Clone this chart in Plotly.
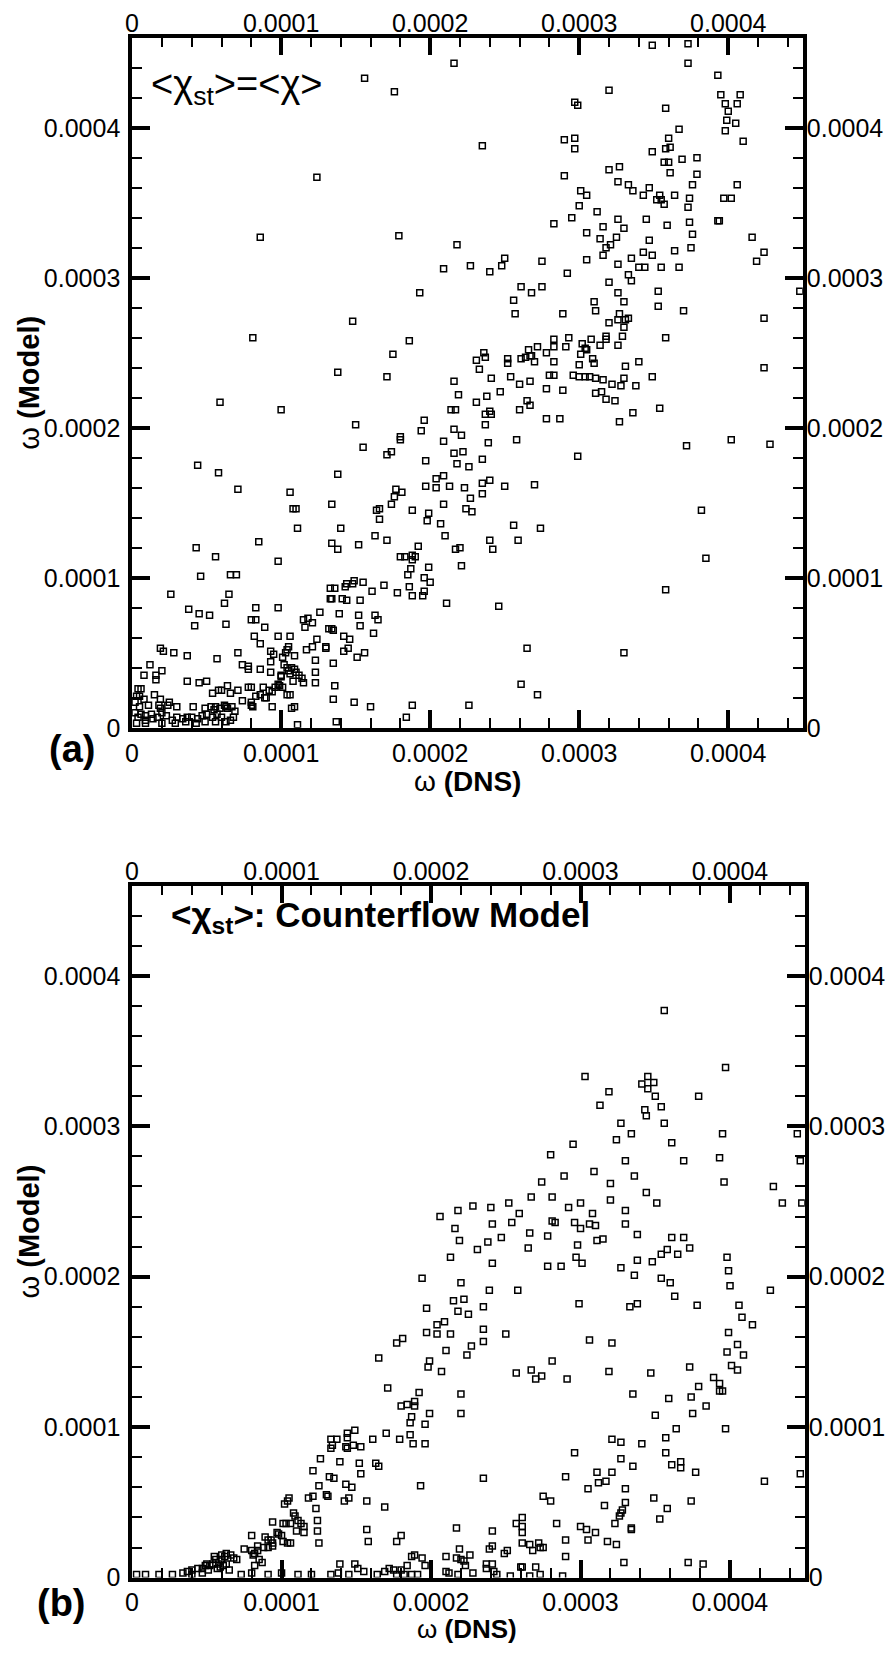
import plotly.graph_objects as go

# values in units of 1e-6 (axis ticks are labelled in real units)
TICK_VALS = [0, 100, 200, 300, 400]
TICK_TEXT = ["0", "0.0001", "0.0002", "0.0003", "0.0004"]

# (a) <chi_st> = <chi>
a_pts = [
    (216, 443), (156, 433), (176, 424), (124, 367), (86, 327), (179, 328), (218, 322), (209, 306), (227, 308),
    (193, 290), (148, 271), (81, 260), (186, 258), (175, 249), (138, 237), (171, 234), (216, 231),
    (219, 222), (59, 217), (100, 212), (214, 212), (217, 212), (196, 205), (150, 202), (180, 194), (180, 192),
    (194, 198), (216, 199), (221, 195), (209, 191), (155, 187), (171, 182), (174, 184), (216, 183), (222, 184),
    (44, 175), (197, 178), (218, 176), (226, 174), (58, 170), (138, 169), (209, 168), (204, 166), (71, 159),
    (177, 159), (181, 157), (197, 161), (204, 160), (213, 161), (223, 160), (106, 157), (176, 154), (174, 149),
    (134, 149), (209, 149), (227, 153), (224, 146), (228, 144), (108, 146), (110, 146), (164, 145), (166, 146),
    (188, 145), (199, 143), (198, 138), (166, 139), (207, 136), (140, 133), (111, 133), (163, 128), (210, 128),
    (85, 124), (134, 123), (138, 119), (152, 122), (171, 125), (192, 121), (43, 120), (217, 119), (220, 120),
    (56, 114), (180, 114), (183, 114), (190, 114), (188, 115), (188, 112), (187, 106), (98, 111), (199, 107),
    (221, 108), (46, 101), (66, 102), (70, 102), (185, 102), (196, 100), (200, 97), (186, 94), (144, 96),
    (143, 94), (149, 98), (148, 96), (155, 97), (169, 95), (133, 93), (136, 93), (161, 91), (178, 90), (196, 91),
    (195, 88), (188, 88), (26, 89), (133, 86), (134, 86), (141, 86), (144, 85), (153, 85), (211, 83), (62, 83),
    (65, 89), (38, 79), (45, 76), (52, 75), (83, 80), (98, 80), (126, 77), (139, 76), (152, 75), (163, 75),
    (165, 72), (42, 68), (63, 69), (80, 72), (83, 72), (115, 72), (118, 73), (116, 67), (121, 70), (89, 67),
    (132, 66), (134, 66), (135, 65), (153, 68), (162, 63), (82, 61), (86, 56), (98, 61), (106, 61), (124, 59),
    (142, 61), (146, 59), (130, 54), (130, 53), (117, 52), (121, 54), (142, 51), (145, 53), (151, 47), (156, 50),
    (19, 53), (21, 51), (28, 50), (37, 48), (57, 46), (71, 50), (93, 51), (95, 49), (101, 47), (103, 50),
    (104, 52), (105, 54), (109, 48), (123, 45), (135, 43), (12, 42), (93, 44), (74, 42), (78, 39), (78, 41),
    (86, 39), (93, 37), (102, 42), (104, 40), (105, 38), (107, 40), (109, 39), (106, 36), (110, 37), (112, 35),
    (114, 33), (115, 30), (108, 31), (100, 35), (100, 34), (123, 37), (8, 35), (16, 35), (16, 32), (20, 38),
    (37, 31), (45, 30), (50, 31), (123, 30), (136, 28), (98, 29), (96, 27), (99, 28), (101, 27), (78, 27),
    (80, 27), (71, 25), (64, 28), (54, 23), (58, 25), (60, 25), (66, 23), (88, 27), (92, 25), (94, 24), (4, 26),
    (6, 26), (15, 22), (104, 22), (106, 22), (83, 21), (86, 22), (89, 20), (90, 20), (74, 18), (80, 17),
    (80, 15), (81, 14), (135, 19), (149, 17), (3, 21), (5, 21), (8, 19), (19, 19), (25, 17), (24, 15), (11, 15),
    (18, 15), (19, 13), (30, 14), (41, 14), (49, 13), (53, 14), (55, 12), (56, 14), (59, 13), (62, 15), (63, 14),
    (64, 13), (67, 14), (69, 11), (94, 14), (107, 13), (109, 14), (160, 14), (188, 15), (226, 15), (184, 7),
    (137, 4), (111, 2),
    (2, 10), (4, 7), (6, 9), (9, 8), (13, 9), (9, 5), (14, 6), (17, 7), (20, 10), (23, 8), (27, 5), (30, 7),
    (34, 6), (37, 7), (40, 7), (44, 6), (47, 8), (50, 9), (54, 7), (57, 9), (60, 7), (63, 4), (66, 5), (68, 7),
    (29, 3), (43, 3), (49, 4), (56, 4), (20, 3), (9, 3), (3, 3), (36, 4), (2, 17), (5, 14),
    (349, 455), (373, 456), (373, 443), (393, 435), (320, 425), (395, 422), (408, 422), (406, 416), (398, 416),
    (400, 411), (297, 417), (299, 415), (358, 413), (399, 405), (405, 403), (398, 398), (367, 399), (410, 391),
    (235, 388), (290, 392), (297, 393), (297, 386), (360, 393), (358, 386), (361, 387), (349, 384), (357, 377),
    (360, 377), (369, 379), (379, 380), (320, 372), (327, 374), (361, 370), (379, 369), (376, 362), (290, 368),
    (326, 364), (333, 362), (406, 362), (336, 358), (347, 360), (301, 358), (305, 355), (343, 355), (364, 355),
    (374, 353), (373, 347), (397, 353), (402, 353), (354, 355), (352, 352), (355, 352), (357, 349), (300, 348),
    (312, 344), (295, 340), (326, 339), (345, 339), (393, 338), (394, 338), (283, 336), (359, 335), (374, 337),
    (316, 334), (330, 333), (305, 330), (314, 326), (325, 327), (318, 320), (321, 322), (347, 325), (376, 329),
    (416, 327), (375, 320), (364, 318), (343, 317), (349, 315), (424, 317), (419, 311), (316, 315), (250, 313),
    (248, 308), (240, 304), (275, 311), (305, 312), (335, 313), (326, 309), (340, 307), (344, 307), (355, 307),
    (367, 307), (292, 303), (333, 302), (335, 298), (320, 297), (261, 294), (275, 294), (268, 290), (448, 291),
    (353, 291), (326, 290), (256, 285), (257, 276), (310, 284), (330, 284), (353, 281), (311, 278), (370, 278),
    (289, 276), (327, 276), (333, 273), (331, 272), (326, 272), (320, 270), (424, 273), (330, 267), (329, 261),
    (326, 255), (318, 261), (318, 259), (358, 260), (293, 260), (283, 259), (283, 254), (308, 259), (314, 255),
    (302, 256), (304, 253), (305, 252), (291, 254), (272, 254), (266, 252), (278, 250), (236, 250), (237, 247),
    (231, 245), (233, 239), (252, 246), (252, 243), (261, 246), (264, 247), (267, 248), (268, 248), (270, 244),
    (283, 244), (301, 249), (300, 242), (309, 246), (310, 243), (331, 241), (340, 244), (424, 240), (241, 233),
    (254, 234), (260, 229), (267, 231), (280, 235), (283, 235), (296, 235), (300, 234), (304, 234), (307, 234),
    (311, 233), (316, 232), (322, 229), (328, 228), (330, 233), (338, 228), (349, 234),
    (247, 224), (238, 221), (231, 217), (278, 226), (289, 225), (311, 223), (315, 224), (318, 219), (324, 218),
    (265, 218), (267, 215), (260, 212), (354, 213), (237, 209), (240, 211), (241, 209), (336, 210), (278, 206),
    (287, 206), (327, 204), (237, 202), (258, 192), (239, 190), (402, 192), (428, 189), (372, 188), (299, 181),
    (235, 179), (235, 163), (240, 165), (250, 161), (270, 162), (235, 156), (382, 145), (256, 135), (274, 133),
    (240, 125), (259, 125), (242, 119), (385, 113), (358, 92), (246, 81), (265, 53), (330, 50), (261, 29),
    (272, 22),
]

# (b) <chi_st>: counterflow model
b_pts = [
    (356, 377), (303, 333), (345, 333), (349, 329), (341, 328), (345, 325), (350, 320), (343, 311), (344, 307),
    (354, 313), (356, 302), (361, 289), (369, 277), (379, 320), (397, 339), (395, 295), (393, 279), (396, 263),
    (445, 295), (447, 277), (448, 249), (429, 260), (435, 249), (319, 323), (313, 314), (327, 302), (324, 291),
    (334, 295), (295, 288), (280, 281), (289, 267), (274, 263), (267, 253), (259, 242), (309, 270), (320, 262),
    (330, 277), (336, 267), (344, 256), (351, 249), (252, 249), (228, 247), (240, 246), (281, 253), (292, 246),
    (300, 249), (308, 242), (320, 251), (330, 244), (206, 240), (218, 244),
    (216, 232), (219, 224), (213, 213), (194, 199), (220, 196), (215, 184), (222, 185), (197, 179), (218, 177),
    (225, 175), (204, 168), (209, 170), (197, 163), (204, 162), (213, 162), (177, 156), (181, 159), (227, 154),
    (224, 148), (210, 151), (199, 144), (198, 140), (207, 137), (165, 146), (171, 126), (192, 123), (220, 122),
    (180, 114), (184, 115), (189, 117), (189, 114), (187, 107), (186, 103), (199, 109), (220, 109), (196, 102),
    (170, 96), (161, 92), (179, 92), (186, 95), (188, 89), (196, 89), (149, 98), (144, 96), (144, 93), (143, 87),
    (144, 86), (148, 88), (133, 92), (137, 92), (134, 88), (133, 86), (153, 87), (126, 79), (139, 77), (152, 76),
    (163, 76), (165, 74), (121, 71), (153, 69), (132, 67), (135, 66), (125, 61), (143, 62), (147, 60), (193, 61),
    (118, 53), (121, 54), (130, 55), (131, 54), (142, 51), (145, 53), (157, 51), (169, 47), (123, 46), (105, 53),
    (104, 51), (102, 49), (94, 37), (101, 36), (103, 36), (106, 36), (108, 43), (109, 41), (111, 38), (113, 36),
    (115, 34), (115, 30), (110, 31), (124, 38), (124, 31), (125, 23), (97, 30), (98, 29), (100, 28), (101, 24),
    (104, 23), (106, 23), (80, 28), (89, 27), (91, 25), (93, 25), (94, 23), (94, 21), (84, 21), (84, 18),
    (88, 20), (91, 20), (75, 19), (80, 18), (81, 15), (82, 16), (85, 12), (87, 10), (82, 8), (157, 32), (158, 24),
    (180, 28), (177, 24), (217, 33), (219, 19), (187, 14), (189, 15), (194, 13), (210, 14), (217, 13), (220, 12),
    (222, 11), (223, 8), (226, 15), (139, 9), (149, 9), (151, 6), (155, 4), (184, 8), (196, 8), (169, 4), (172, 6),
    (175, 5), (177, 2), (180, 5), (182, 2), (187, 2), (191, 2), (210, 4), (212, 3), (218, 2),
    (66, 15), (62, 14), (60, 12), (58, 9), (56, 12), (54, 9), (52, 8), (49, 8), (47, 6), (44, 6), (40, 5), (37, 4),
    (68, 13), (70, 12), (63, 9), (61, 8), (59, 7), (65, 5), (57, 6), (51, 5), (50, 9), (55, 14), (60, 15), (63, 16),
    (3, 2), (9, 2), (18, 2), (27, 2), (34, 3), (40, 2), (47, 3), (73, 2), (80, 3), (91, 2), (100, 3), (111, 2),
    (120, 2), (133, 2), (138, 3), (145, 2), (164, 2),
    (241, 235), (254, 236), (281, 237), (283, 236), (296, 236), (300, 232), (306, 235), (310, 234), (330, 235),
    (338, 228), (238, 223), (247, 226), (231, 218), (266, 229), (265, 219), (278, 227), (298, 221), (311, 224),
    (315, 225), (361, 226), (369, 226), (373, 219), (358, 218), (365, 215), (354, 215), (348, 210), (338, 211),
    (241, 209), (278, 207), (287, 207), (297, 213), (301, 209), (327, 206), (336, 201), (354, 199), (360, 196),
    (363, 187), (398, 213), (399, 204), (400, 194), (427, 191), (258, 191), (239, 191), (378, 181), (406, 181),
    (408, 173), (415, 168), (235, 180), (299, 182), (333, 180), (338, 182), (235, 165), (235, 157), (250, 162),
    (399, 163), (405, 155), (398, 150), (409, 148), (306, 158), (321, 156), (281, 144), (373, 140), (401, 141),
    (405, 138), (257, 136), (267, 138), (270, 132), (274, 134), (291, 132), (319, 137), (347, 136), (389, 133),
    (393, 129), (393, 124), (395, 124), (379, 127), (335, 122), (359, 119), (374, 120), (384, 114), (350, 108),
    (375, 109), (364, 99), (397, 99), (357, 93), (357, 83), (321, 92), (327, 90), (341, 89), (296, 83), (327, 79),
    (361, 75), (367, 77), (367, 73), (335, 74), (377, 70), (447, 69), (423, 64), (235, 66), (290, 67), (311, 70),
    (321, 70), (312, 63), (317, 64), (305, 59), (330, 59), (275, 54), (280, 51), (349, 53), (374, 51), (316, 48),
    (330, 50), (328, 45), (327, 43), (326, 41), (358, 46), (353, 39), (261, 40), (284, 36), (323, 36), (300, 34),
    (304, 32), (310, 30), (334, 33), (334, 32), (257, 36), (261, 34), (261, 30), (241, 31), (239, 19), (241, 21),
    (249, 16), (251, 18), (261, 23), (266, 22), (268, 18), (272, 23), (273, 20), (275, 20), (290, 25), (290, 14),
    (305, 25), (318, 24), (324, 22), (228, 3), (237, 9), (237, 6), (241, 9), (242, 4), (260, 7), (261, 7),
    (270, 7), (329, 10), (372, 10), (382, 9), (244, 2), (253, 1), (266, 1), (273, 2), (288, 1),
]

FONT = "Liberation Sans, Arial, Helvetica, sans-serif"
W, H = 895, 1656
OFF = 8  # the page body adds an 8px margin around the plot div

marker = dict(symbol="square-open", size=6, color="black", line=dict(width=1.5, color="black"))

fig = go.Figure()
fig.add_trace(go.Scatter(x=[p[0] for p in a_pts], y=[p[1] for p in a_pts], mode="markers",
                         marker=marker, xaxis="x", yaxis="y", showlegend=False))
fig.add_trace(go.Scatter(x=[p[0] for p in b_pts], y=[p[1] for p in b_pts], mode="markers",
                         marker=marker, xaxis="x2", yaxis="y2", showlegend=False))
# empty traces so the label-only twin axes get drawn
fig.add_trace(go.Scatter(x=[], y=[], xaxis="x3", yaxis="y3", showlegend=False))
fig.add_trace(go.Scatter(x=[], y=[], xaxis="x4", yaxis="y4", showlegend=False))


def main_axis(domain, anchor, rng, standoff):
    return dict(
        domain=domain, anchor=anchor, range=rng, tickmode="array",
        tickvals=TICK_VALS, ticktext=TICK_TEXT, ticks="inside", ticklen=18, tickwidth=3.5,
        tickcolor="black", showline=True, linewidth=3.5, linecolor="black", mirror="ticks",
        showgrid=False, zeroline=False, tickfont=dict(family=FONT, size=25, color="black"),
        ticklabelstandoff=standoff,
        minor=dict(dtick=20, ticks="inside", ticklen=10, tickwidth=1.5, tickcolor="black", showgrid=False),
    )


def twin_axis(over, anchor, side, rng, standoff):
    return dict(
        overlaying=over, anchor=anchor, side=side, range=rng, tickmode="array", tickvals=TICK_VALS,
        ticktext=TICK_TEXT, ticks="", showline=False, showgrid=False, zeroline=False,
        tickfont=dict(family=FONT, size=25, color="black"), ticklabelstandoff=standoff,
    )


XR, YR = [0, 450], [0, 460]
top_x = [(126 - OFF) / W, (802 - OFF) / W]
top_y = [1 - (734 - OFF) / H, 1 - (38 - OFF) / H]
bot_x = [(126 - OFF) / W, (804 - OFF) / W]
bot_y = [1 - (1591 - OFF) / H, 1 - (893 - OFF) / H]

fig.update_layout(
    width=W, height=H, margin=dict(l=0, r=0, t=0, b=0),
    paper_bgcolor="white", plot_bgcolor="white", showlegend=False,
    xaxis=main_axis(top_x, "y", XR, 0), yaxis=main_axis(top_y, "x", YR, 3),
    xaxis2=main_axis(bot_x, "y2", XR, 0), yaxis2=main_axis(bot_y, "x2", YR, 3),
    xaxis3=twin_axis("x", "y", "top", XR, 0), yaxis3=twin_axis("y", "x", "right", YR, 3),
    xaxis4=twin_axis("x2", "y2", "top", XR, 0), yaxis4=twin_axis("y2", "x2", "right", YR, 3),
)


def note(text, px, py, size, angle=0):
    fig.add_annotation(text=text, x=(px - OFF) / W, y=1 - (py - OFF) / H, xref="paper", yref="paper",
                       xanchor="center", yanchor="middle", showarrow=False, textangle=angle,
                       font=dict(family=FONT, size=size, color="black"))


note("ω <b>(DNS)</b>", 464, 788, 28)
note("ω <b>(DNS)</b>", 464, 1643, 26)
note("ω <b>(Model)</b>", 22, 386, 29, -90)
note("ω <b>(Model)</b>", 22, 1242, 29, -90)
note("<b>(a)</b>", 65, 755, 38)
note("<b>(b)</b>", 55, 1617, 38)
note("&lt;χ<sub>st</sub>&gt;=&lt;χ&gt;", 232, 88, 38)
note("<b>&lt;χ<sub>st</sub>&gt;: Counterflow Model</b>", 376, 925, 35)

fig.write_html("out.html")
